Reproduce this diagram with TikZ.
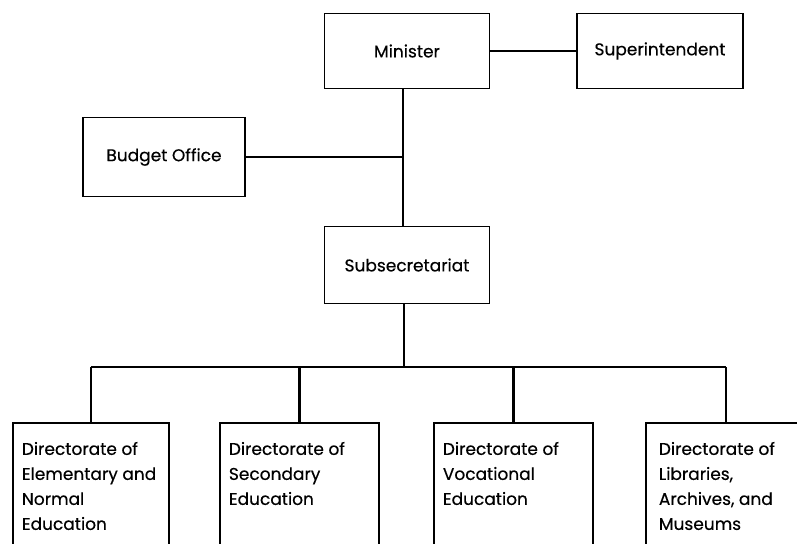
\documentclass[tikz,border=0pt]{standalone}
\usepackage{fontspec}
\setmainfont{Poppins}[FakeBold=0.4]
\usetikzlibrary{positioning}

\begin{document}
\begin{tikzpicture} [x = 1pt, y = -1pt, font = \fontsize{17}{25}\selectfont,
        office/.style = {draw, line width = 1.8pt, minimum width = 165pt, minimum height = 75pt},
        dirbox/.style = {draw, line width = 1.8pt, anchor = north west, inner xsep = 9pt, inner ysep = 19pt},
        link/.style = {line width = 2.6pt}]
        \useasboundingbox (0,0) rectangle (797,543);
        \clip (0,0) rectangle (797,543);

        \node (min) [office] at (407,51) {Minister};
        \node (sup) [office, minimum width = 166pt] at (660,51) {Superintendent};
        \node (bud) [office, minimum width = 162pt, minimum height = 79pt] at (164,157) {Budget Office};
        \node (sub) [office, minimum height = 77pt] at (407,265) {Subsecretariat};

        \node (d1) [dirbox] at (12,422) {\parbox[t][130pt][t]{138pt}{\raggedright Directorate of\\\mbox{Elementary and}\\Normal\\Education}};
        \node (d2) [dirbox] at (219,422) {\parbox[t][130pt][t]{141pt}{\raggedright Directorate of\\Secondary\\Education}};
        \node (d3) [dirbox] at (433,422) {\parbox[t][130pt][t]{141pt}{\raggedright Directorate of\\Vocational\\Education}};
        \node (d4) [dirbox, inner xsep = 13pt] at (645,422) {\parbox[t][130pt][t]{134pt}{\raggedright Directorate of\\Libraries,\\Archives, and\\Museums}};

        \coordinate (joint) at (403,157);
        \coordinate (bus) at (404,367);

        \path [link] (min) edge (sup);
        \path [link] ([xshift = -4pt]min.south) edge ([xshift = -4pt]sub.north);
        \path [link] (bud) edge (joint);
        \path [link] ([xshift = -3pt]sub.south) edge (bus);
        \path [link] (d1.north |- bus) edge (d4.north |- bus);
        \foreach \d in {d1, d2, d3, d4}
            \path [link] (\d.north) edge (\d.north |- bus);
    \end{tikzpicture}
\end{document}
